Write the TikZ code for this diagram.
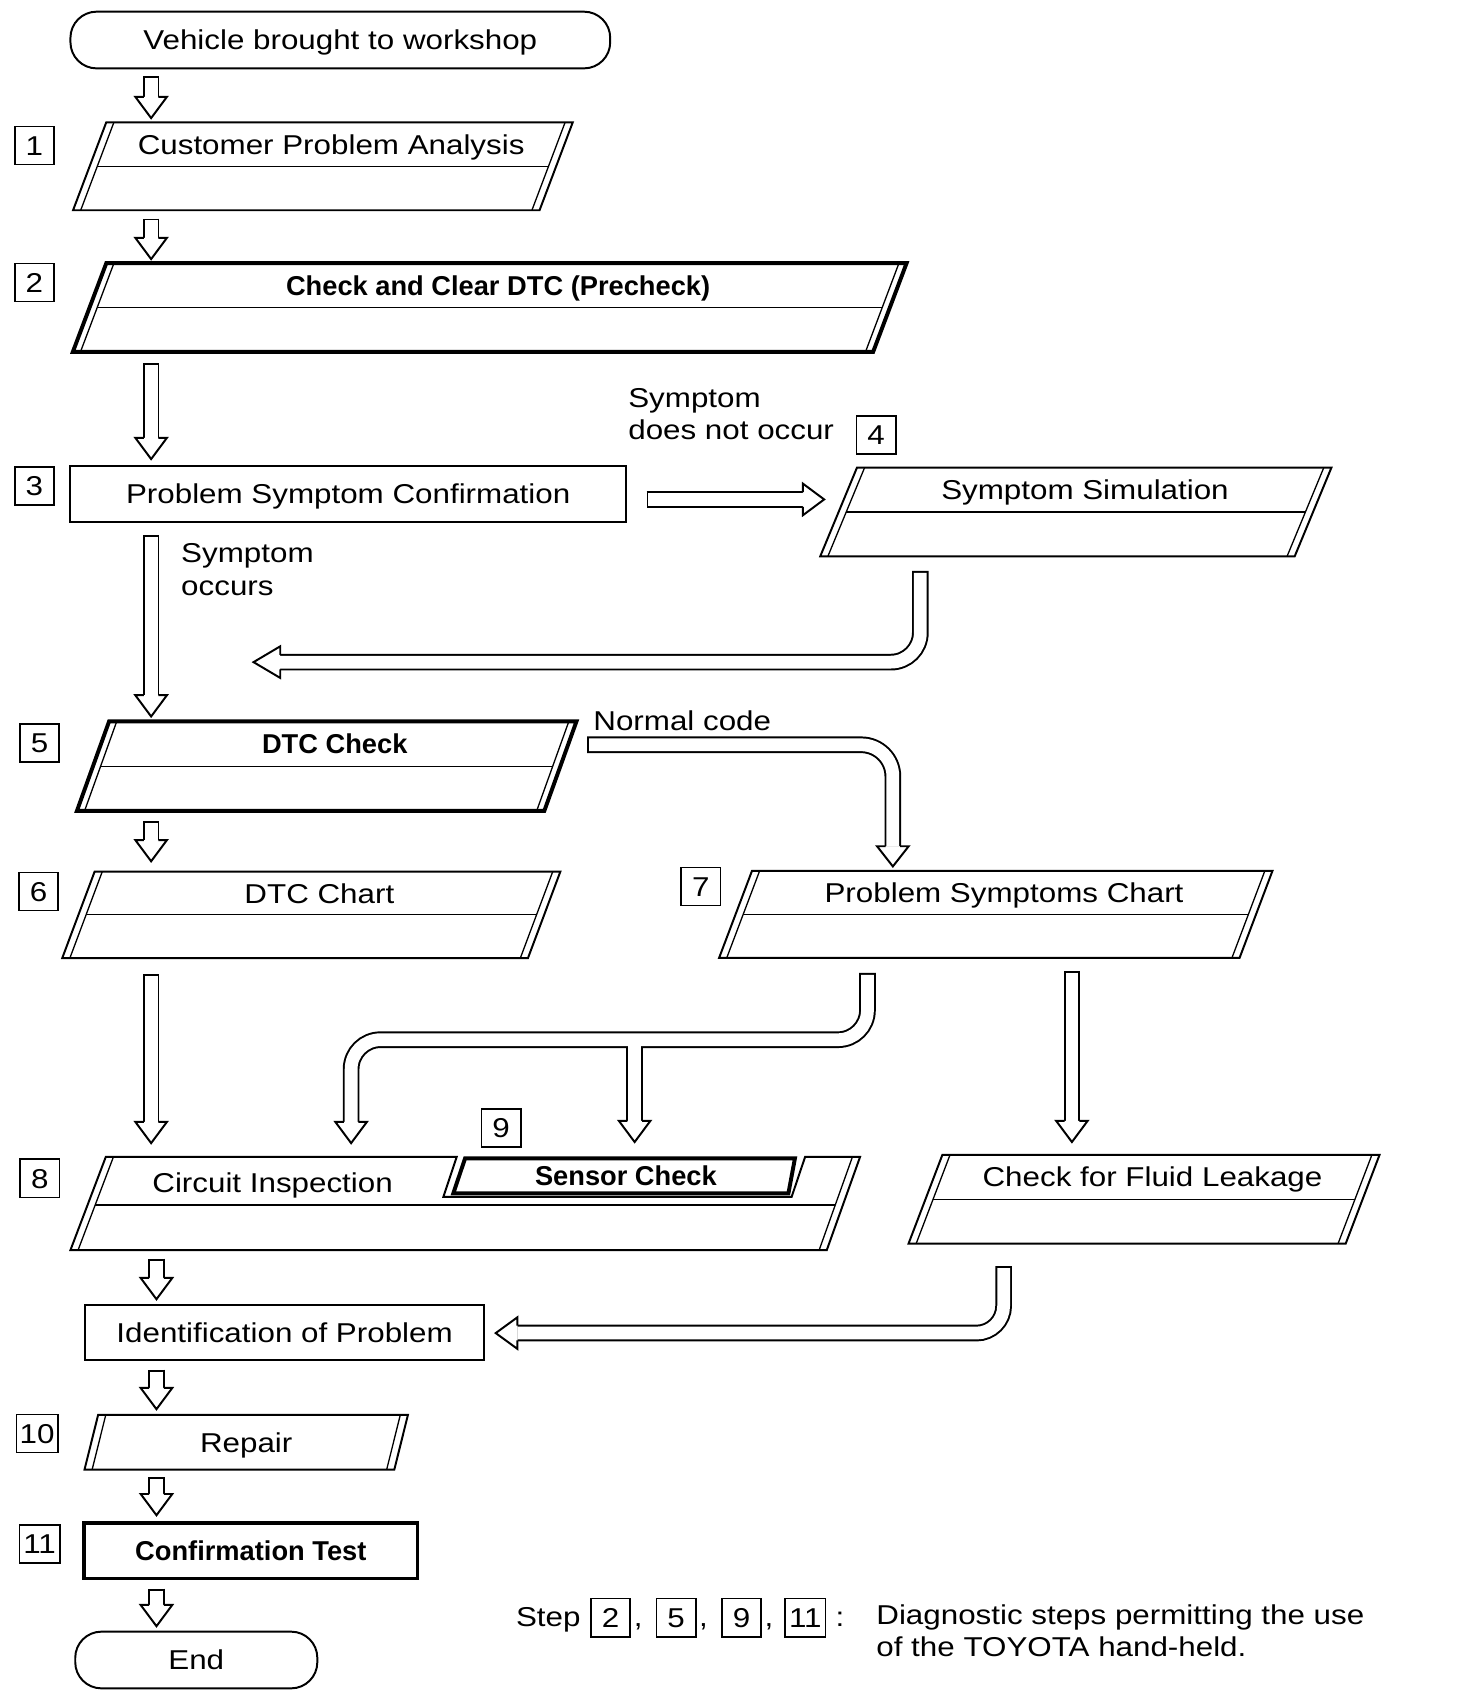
\documentclass[tikz,border=0pt]{standalone}
\usepackage{fontspec}
\newfontfamily\rfont{Liberation Sans}[FakeStretch=1.15]
\newfontfamily\bfont{Liberation Sans}
\usetikzlibrary{calc}
\tikzset{
  txt/.style={font=\rfont\fontsize{25}{30}\selectfont, inner sep=0pt, text height=17.9pt, text depth=0pt},
  btxt/.style={font=\bfont\bfseries\fontsize{25}{30}\selectfont, inner sep=0pt, text height=17.9pt, text depth=0pt},
  num/.style={txt, draw, line width=1.5pt, minimum width=36pt, minimum height=35pt},
  thinl/.style={line width=1.2pt},
  normb/.style={line width=1.8pt, line join=miter},
  boldb/.style={line width=3.6pt, line join=miter},
  tubeB/.style={line width=15.3pt},
  tubeW/.style={white, line width=11.7pt},
  headst/.style={fill=white, draw=black, line width=1.8pt, line join=miter},
}
% parallelogram frame: name, cx, cy, w, h, slant, outline style
\newcommand\PG[7]{%
  \node[minimum width=#4pt, minimum height=#5pt, inner sep=0pt] (#1) at (#2,#3) {};
  \coordinate (#1-tl) at ($(#1.north west)+(#6/2,0)$);
  \coordinate (#1-tr) at ($(#1.north east)+(#6/2,0)$);
  \coordinate (#1-br) at ($(#1.south east)+(-#6/2,0)$);
  \coordinate (#1-bl) at ($(#1.south west)+(-#6/2,0)$);
  \draw[#7] (#1-tl) -- (#1-tr) -- (#1-br) -- (#1-bl) -- cycle;
  \draw[thinl] ($(#1-tl)+(7,0)$) -- ($(#1-bl)+(7,0)$);
  \draw[thinl] ($(#1-tr)+(-7,0)$) -- ($(#1-br)+(-7,0)$);
}
\newcommand\PGmid[1]{\draw[thinl] ($(#1.west)+(7,0)$) -- ($(#1.east)+(-7,0)$);}
% hollow arrow heads: base centre, tip
\newcommand\headD[2]{\draw[headst] ($#1+(-6.75,0)$) -- ($#1+(-14.5,0)$) -- #2 -- ($#1+(14.5,0)$) -- ($#1+(6.75,0)$);}
\newcommand\headL[2]{\draw[headst] ($#1+(0,-6.75)$) -- ($#1+(0,-14.5)$) -- #2 -- ($#1+(0,14.5)$) -- ($#1+(0,6.75)$);}
% straight hollow arrows: start, tip
\newcommand\darrow[2]{%
  \draw[tubeB] let \p1=#1, \p2=#2 in (\x1,\y1) -- (\x1,\y2+19.5pt);
  \draw[tubeW] let \p1=#1, \p2=#2 in (\x1,\y1-1.8pt) -- (\x1,\y2+19.5pt);
  \draw[headst] let \p1=#1, \p2=#2 in (\x1-6.75pt,\y2+19.5pt) -- (\x1-14.5pt,\y2+19.5pt) -- (\x1,\y2) -- (\x1+14.5pt,\y2+19.5pt) -- (\x1+6.75pt,\y2+19.5pt);
}
\newcommand\rarrow[2]{%
  \draw[tubeB] let \p1=#1, \p2=#2 in (\x1,\y1) -- (\x2-19.5pt,\y1);
  \draw[tubeW] let \p1=#1, \p2=#2 in (\x1+1.8pt,\y1) -- (\x2-19.5pt,\y1);
  \draw[headst] let \p1=#1, \p2=#2 in (\x2-19.5pt,\y1+6.75pt) -- (\x2-19.5pt,\y1+14.5pt) -- (\x2,\y1) -- (\x2-19.5pt,\y1-14.5pt) -- (\x2-19.5pt,\y1-6.75pt);
}
\begin{document}
\begin{tikzpicture}[x=1pt,y=-1pt]
\useasboundingbox (0,0) rectangle (1350,1564.5);

% ---------- boxes ----------
\node[txt, draw, normb, rounded corners=24pt, minimum width=495pt, minimum height=52pt] (veh) at (312.1,36.7) {Vehicle brought to workshop};

\PG{b1}{296.1}{152.55}{427.4}{80.1}{30.4}{normb}\PGmid{b1}
\node[txt] (b1t) at ($(b1.center)+(7.6,-20)$) {Customer Problem Analysis};

\PG{b2}{449.1}{282}{733.5}{81}{30.7}{boldb}\PGmid{b2}
\node[btxt] (b2t) at ($(b2.center)+(7.7,-20.25)$) {Check and Clear DTC (Precheck)};

\node[txt, draw, normb, minimum width=509.4pt, minimum height=51.6pt] (b3) at (319.3,453.2) {Problem Symptom Confirmation};

\PG{b4}{986.6}{469.5}{434.7}{81}{33.7}{normb}\PGmid{b4}
\node[txt] (b4t) at ($(b4.center)+(8.4,-20.25)$) {Symptom Simulation};

\PG{b5}{299.6}{702.6}{428.2}{81.7}{29.5}{boldb}\PGmid{b5}
\node[btxt] (b5t) at ($(b5.center)+(7.4,-20.4)$) {DTC Check};

\PG{b6}{285.5}{838.9}{426.7}{78.9}{29.7}{normb}\PGmid{b6}
\node[txt] (b6t) at ($(b6.center)+(7.4,-19.7)$) {DTC Chart};

\PG{b7}{913.2}{838.5}{476.9}{79.5}{30.2}{normb}\PGmid{b7}
\node[txt] (b7t) at ($(b7.center)+(7.55,-19.9)$) {Problem Symptoms Chart};

% box 8 with the sensor-check insert
\node[minimum width=692.6pt, minimum height=85.4pt, inner sep=0pt] (b8) at (427.1,1103.7) {};
\draw[normb] (418.8,1061) -- (97,1061) -- (64.6,1146.4) -- (758.2,1146.4) -- (788.7,1061) -- (738.3,1061) -- (726,1097.5) -- (406.6,1097.5) -- cycle;
\draw[thinl] (104,1061) -- (71.6,1146.4);
\draw[thinl] (781.7,1061) -- (751.2,1146.4);
\draw[thinl] (87.3,1105) -- (766,1105);
\draw[boldb] (426.5,1062.3) -- (729,1062.3) -- (723,1094.4) -- (415.7,1094.4) -- cycle;
\node[txt] (ci) at (250,1085) {Circuit Inspection};
\node[btxt] (sc) at (574,1078.5) {Sensor Check};

\PG{fl}{1049.15}{1099.75}{400.5}{80.9}{31}{normb}\PGmid{fl}
\node[txt] (flt) at ($(fl.center)+(7.75,-20.2)$) {Check for Fluid Leakage};

\node[txt, draw, normb, minimum width=366pt, minimum height=50.5pt] (idp) at (261,1222.2) {Identification of Problem};

\PG{rep}{225.8}{1322.6}{283.7}{49.8}{12.5}{normb}
\node[txt] (rept) at (rep.center) {Repair};

\node[btxt, draw, line width=3.4pt, minimum width=306pt, minimum height=50.5pt] (cft) at (230,1422.2) {Confirmation Test};

\node[txt, draw, normb, rounded corners=24pt, minimum width=222pt, minimum height=52pt] (endn) at (180,1522.3) {End};

% ---------- step numbers ----------
\node[num] (n1) at (31.5,133.5) {1};
\node[num] (n2) at (31.5,259) {2};
\node[num] (n3) at (31.5,445.5) {3};
\node[num] (n4) at (803.5,399) {4};
\node[num] (n5) at (36.3,681.5) {5};
\node[num] (n6) at (35.3,817.5) {6};
\node[num] (n7) at (642.8,813) {7};
\node[num] (n8) at (36.5,1080.5) {8};
\node[num] (n9) at (459.5,1034.5) {9};
\node[num, minimum width=38pt] (n10) at (34,1314.5) {10};
\node[num, minimum width=37pt] (n11) at (36.3,1416) {11};

% ---------- labels ----------
\node[txt, anchor=base west] (l1a) at (576,373.6) {Symptom};
\node[txt, anchor=base west] (l1b) at (576,403) {does not occur};
\node[txt, anchor=base west] (l2a) at (166,516) {Symptom};
\node[txt, anchor=base west] (l2b) at (166,545.7) {occurs};
\node[txt, anchor=base west] (l3) at (544,670) {Normal code};

% ---------- column coordinates ----------
\coordinate (colA) at (138.6,0);
\coordinate (colB) at (143.5,0);
\coordinate (colC) at (983,0);

% ---------- straight arrows ----------
\darrow{($(colA |- veh.south)+(0,6.1)$)}{($(colA |- b1.north)+(0,-4)$)}
\darrow{($(colA |- b1.south)+(0,7.6)$)}{($(colA |- b2.north)+(0,-3.7)$)}
\darrow{($(colA |- b2.south)+(0,10.5)$)}{($(colA |- b3.north)+(0,-5.5)$)}
\darrow{($(colA |- b3.south)+(0,10.7)$)}{($(colA |- b5.north)+(0,-4.5)$)}
\darrow{($(colA |- b5.south)+(0,9.5)$)}{($(colA |- b6.north)+(0,-9.4)$)}
\darrow{($(colA |- b6.south)+(0,15)$)}{($(colA |- b8.north)+(0,-12.5)$)}
\darrow{($(colB |- b8.south)+(0,7.6)$)}{($(colB |- idp.north)+(0,-4.6)$)}
\darrow{($(colB |- idp.south)+(0,7.6)$)}{($(colB |- rep.north)+(0,-5.2)$)}
\darrow{($(colB |- rep.south)+(0,6.8)$)}{($(colB |- cft.north)+(0,-5.7)$)}
\darrow{($(colB |- cft.south)+(0,7.7)$)}{($(colB |- endn.north)+(0,-4.1)$)}
\darrow{($(colC |- b7.south)+(0,11.9)$)}{($(colC |- fl.north)+(0,-11.8)$)}
\rarrow{($(b3.east)+(18,4.8)$)}{($(b4.west)+(-13.25,-11.5)$)}

% ---------- bent arrows ----------
% Symptom Simulation -> back to main line
\coordinate (a6s) at ($(b4.south)+(-142.6,13.4)$);
\coordinate (a6t) at ($(a6s)+(-611.5,83.6)$);
\coordinate (a6b) at ($(a6t)+(24.5,0)$);
\draw[tubeB, rounded corners=27pt] (a6s) -- (a6s |- a6b) -- (a6b);
\draw[tubeW, rounded corners=27pt] ($(a6s)+(0,1.8)$) -- (a6s |- a6b) -- (a6b);
\headL{(a6b)}{(a6t)}

% DTC Check -> Problem Symptoms Chart (normal code)
\coordinate (a7s) at ($(b5.east)+(24.5,-19.6)$);
\coordinate (a7t) at ($(b7.north)+(-94.4,-4)$);
\coordinate (a7b) at ($(a7t)+(0,-18.5)$);
\draw[tubeB, rounded corners=29pt] (a7s) -- (a7s -| a7b) -- (a7b);
\draw[tubeW, rounded corners=29pt] ($(a7s)+(1.8,0)$) -- (a7s -| a7b) -- (a7b);
\headD{(a7b)}{(a7t)}

% Problem Symptoms Chart -> Circuit Inspection / Sensor Check
\coordinate (a10s) at ($(b7.south)+(-117.7,13.7)$);
\coordinate (a10h) at ($(a10s)+(0,61.3)$);
\coordinate (a10lt) at ($(b8.north)+(-105.1,-12.5)$);
\coordinate (a10lb) at ($(a10lt)+(0,-19.5)$);
\coordinate (a10rt) at ($(b8.north)+(154.9,-13.5)$);
\coordinate (a10rb) at ($(a10rt)+(0,-19.5)$);
\draw[tubeB, rounded corners=27pt] (a10s) -- (a10h) -- (a10h -| a10lb) -- (a10lb);
\draw[tubeB] (a10h -| a10rb) -- (a10rb);
\draw[tubeW, rounded corners=27pt] ($(a10s)+(0,1.8)$) -- (a10h) -- (a10h -| a10lb) -- (a10lb);
\draw[tubeW] (a10h -| a10rb) -- (a10rb);
\headD{(a10lb)}{(a10lt)}
\headD{(a10rb)}{(a10rt)}

% Check for Fluid Leakage -> Identification of Problem
\coordinate (a15s) at ($(fl.south)+(-128.75,20.8)$);
\coordinate (a15t) at ($(idp.east)+(9.7,0.3)$);
\coordinate (a15b) at ($(a15t)+(19.9,0)$);
\draw[tubeB, rounded corners=25pt] (a15s) -- (a15s |- a15b) -- (a15b);
\draw[tubeW, rounded corners=25pt] ($(a15s)+(0,1.8)$) -- (a15s |- a15b) -- (a15b);
\headL{(a15b)}{(a15t)}

% ---------- footer ----------
\node[txt, anchor=base west] (stp) at (473,1492) {Step};
\node[num] (f2) at (560,1483.5) {2};
\node[txt, anchor=base west] (k1) at (581,1492) {,};
\node[num] (f5) at (620,1483.5) {5};
\node[txt, anchor=base west] (k2) at (641,1492) {,};
\node[num] (f9) at (680,1483.5) {9};
\node[txt, anchor=base west] (k3) at (701,1492) {,};
\node[num, minimum width=37pt] (f11) at (738.5,1483.5) {11};
\node[txt, anchor=base west] (k4) at (766,1492) {:};
\node[txt, anchor=base west] (ft1) at (803.5,1490) {Diagnostic steps permitting the use};
\node[txt, anchor=base west] (ft2) at (803.5,1519) {of the TOYOTA hand-held.};
\end{tikzpicture}
\end{document}
